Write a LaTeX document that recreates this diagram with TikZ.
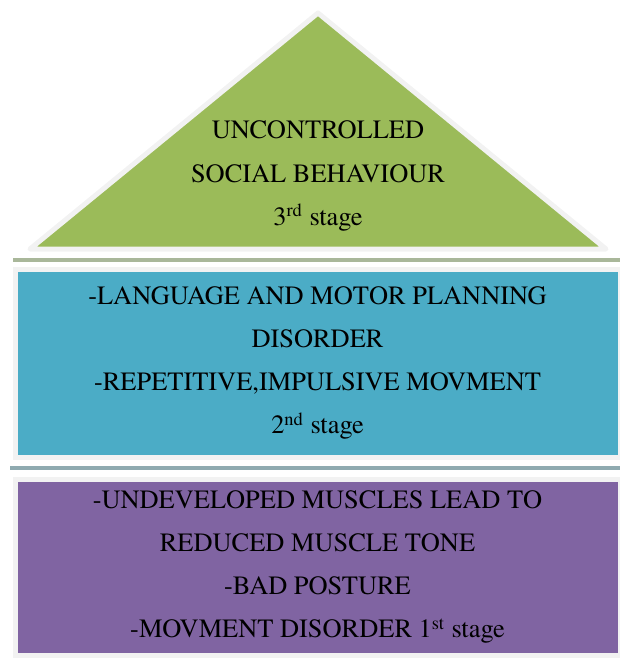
\documentclass[tikz,border=0pt]{standalone}
\usepackage{fontspec}
\setmainfont{TeX Gyre Termes}
\usetikzlibrary{positioning}
\definecolor{stagegreen}{HTML}{9BBB59}
\definecolor{stageaqua}{HTML}{4BACC6}
\definecolor{stagepurple}{HTML}{8064A2}
\definecolor{bandgreen}{HTML}{A9B79A}
\definecolor{bandaqua}{HTML}{8FAAB0}
\definecolor{rim}{HTML}{F2F2F2}

\begin{document}
\begin{tikzpicture}[x=0.5pt, y=-0.5pt,
   box/.style = {draw=rim, line width=2.5pt, minimum width=302.5pt,
                 align=center, inner sep=0pt,
                 font=\fontsize{13.2}{21.6}\selectfont},
   band/.style = {minimum height=2pt, inner sep=0pt}
                    ]
\useasboundingbox (0,0) rectangle (620,663);
% 3rd stage: roof
\coordinate (apex) at (318,13);
\coordinate (eaveL) at (30,249);
\coordinate (eaveR) at (606,249);
\filldraw [fill=stagegreen, draw=rim, line width=2.5pt, line join=round]
      (apex) -- (eaveL) -- (eaveR) -- cycle;
\node (n3) [align=center, font=\fontsize{13.2}{21.6}\selectfont] at (318,176)
      {UNCONTROLLED\\ SOCIAL BEHAVIOUR\\ 3\textsuperscript{rd} stage};
% separating bands
\node (b1) [band, fill=bandgreen, minimum width=303.5pt] at (316.5,260) {};
\node (b2) [band, fill=bandaqua, minimum width=305pt] at (315,468) {};
% 2nd stage
\node (n2) [box, fill=stageaqua, minimum height=94pt] at (317.5,363)
      {-LANGUAGE AND MOTOR PLANNING\\ DISORDER\\
       -REPETITIVE,IMPULSIVE MOVMENT\\ 2\textsuperscript{nd} stage};
% 1st stage
\node (n1) [box, fill=stagepurple, minimum height=88pt] at (317.5,567)
      {-UNDEVELOPED MUSCLES LEAD TO\\ REDUCED MUSCLE TONE\\
       -BAD POSTURE\\ -MOVMENT DISORDER 1\textsuperscript{st} stage};
\end{tikzpicture}
\end{document}
